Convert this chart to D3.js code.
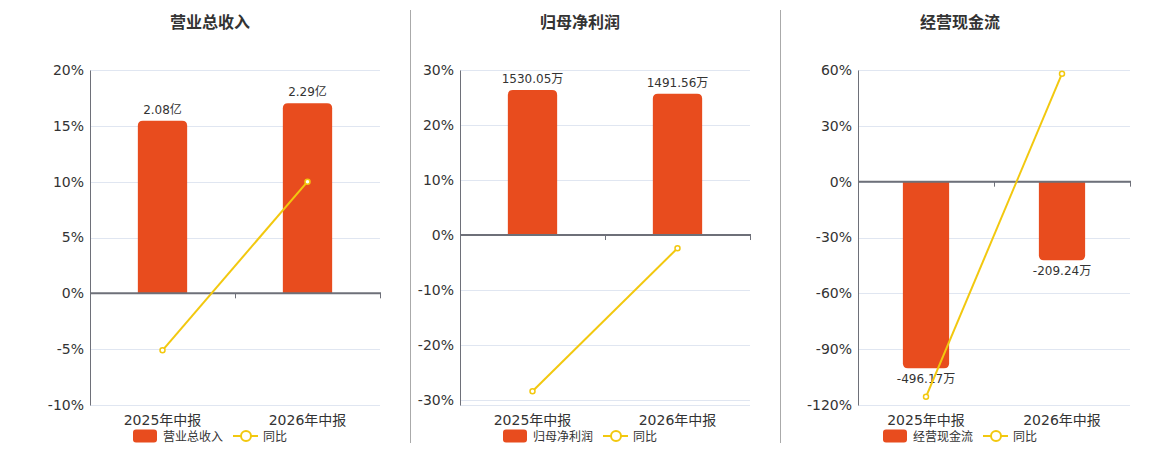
<!DOCTYPE html>
<html>
<head>
<meta charset="utf-8">
<script src="https://cdn.jsdelivr.net/npm/d3@7"></script>
<style>
  body { margin: 0; background: #fff; }
  text { font-family: "DejaVu Sans", "Noto Sans CJK SC", sans-serif; }
</style>
</head>
<body>
<svg id="chart" width="1160" height="450"></svg>
<script>
// data
var categories = ['2025年中报', '2026年中报'];
var titles = ['营业总收入', '归母净利润', '经营现金流'];
var units = ['亿', '万', '万'];
var revenue = [2.08, 2.29];
var netProfit = [1530.05, 1491.56];
var cashFlow = [-496.17, -209.24];
var yoyRevenue = [-5.1, 10.0];
var yoyProfit = [-28.4, -2.4];
var yoyCash = [-115.6, 58.0];
var pctTicks1 = [-10, -5, 0, 5, 10, 15, 20];
var pctTicks2 = [-30, -20, -10, 0, 10, 20, 30];
var pctTicks3 = [-120, -90, -60, -30, 0, 30, 60];

var barColor = '#e84c1e';
var lineColor = '#f2c80f';
var gridColor = '#e0e6f1';
var axisColor = '#6e7079';

// note: "top" is taken by window.top
var plotTop = 70, plotBottom = 405;

var panels = [
	{ title: titles[0], unit: units[0], bars: revenue, yoy: yoyRevenue, ticks: pctTicks1,
	  pctDomain: [-10, 20], barDomain: [-1.346, 2.69], left: 90, right: 380, center: 210 },
	{ title: titles[1], unit: units[1], bars: netProfit, yoy: yoyProfit, ticks: pctTicks2,
	  pctDomain: [-30.9, 30], barDomain: [-1794, 1741], left: 460, right: 750, center: 580 },
	{ title: titles[2], unit: units[2], bars: cashFlow, yoy: yoyCash, ticks: pctTicks3,
	  pctDomain: [-120, 60], barDomain: [-594, 297], left: 858, right: 1130, center: 960 }
];

var svg = d3.select('#chart');

// separators
[410, 780].forEach(function(x){
	svg.append('line')
		.attr('x1', x + 0.5).attr('x2', x + 0.5)
		.attr('y1', 10).attr('y2', 443)
		.attr('stroke', '#aaa').attr('stroke-width', 1);
});

panels.forEach(function(p){
	var g = svg.append('g');

	var xScale = d3.scaleBand().domain(categories).range([p.left, p.right]);
	var yPct = d3.scaleLinear().domain(p.pctDomain).range([plotBottom, plotTop]);
	var yBar = d3.scaleLinear().domain(p.barDomain).range([plotBottom, plotTop]);
	var zero = yPct(0);

	// title
	g.append('text')
		.attr('x', p.center).attr('y', 28)
		.attr('text-anchor', 'middle')
		.attr('font-size', 16).attr('font-weight', 'bold')
		.attr('fill', '#333')
		.text(p.title);

	// grid
	g.selectAll('.grid')
		.data(p.ticks.concat([p.pctDomain[0]]))
		.enter().append('line')
		.attr('x1', p.left).attr('x2', p.right)
		.attr('y1', function(d){ return Math.round(yPct(d)) + 0.5 })
		.attr('y2', function(d){ return Math.round(yPct(d)) + 0.5 })
		.attr('stroke', gridColor).attr('stroke-width', 1);

	// y axis
	var yAxis = d3.axisLeft(yPct)
		.tickValues(p.ticks)
		.tickSize(0)
		.tickPadding(6)
		.tickFormat(function(d){ return d + '%' });
	var ya = g.append('g')
		.attr('transform', 'translate(' + p.left + ',0)')
		.call(yAxis);
	ya.select('.domain').attr('stroke', axisColor);
	ya.selectAll('text')
		.attr('font-size', 14).attr('fill', '#333')
		.style('font-family', '"DejaVu Sans", "Noto Sans CJK SC", sans-serif');

	// bars
	var bw = xScale.bandwidth() * 0.34;
	g.selectAll('.bar')
		.data(p.bars)
		.enter().append('path')
		.attr('fill', barColor)
		.attr('d', function(d, i){
			var x0 = xScale(categories[i]) + (xScale.bandwidth() - bw) / 2;
			var y0 = yBar(0), y1 = yBar(d);
			var r = 5;
			var dir = d >= 0 ? 1 : -1;
			var p2 = d3.path();
			p2.moveTo(x0, y0);
			p2.lineTo(x0, y1 + dir * r);
			p2.quadraticCurveTo(x0, y1, x0 + r, y1);
			p2.lineTo(x0 + bw - r, y1);
			p2.quadraticCurveTo(x0 + bw, y1, x0 + bw, y1 + dir * r);
			p2.lineTo(x0 + bw, y0);
			p2.closePath();
			return p2.toString();
		});

	// bar labels
	g.selectAll('.blabel')
		.data(p.bars)
		.enter().append('text')
		.attr('x', function(d, i){ return xScale(categories[i]) + xScale.bandwidth() / 2 })
		.attr('y', function(d){ return d >= 0 ? yBar(d) - 7 : yBar(d) + 15 })
		.attr('text-anchor', 'middle')
		.attr('font-size', 12).attr('fill', '#333')
		.text(function(d){ return d + p.unit });

	// x axis at zero
	g.append('line')
		.attr('x1', p.left).attr('x2', p.right + 1)
		.attr('y1', zero).attr('y2', zero)
		.attr('stroke', axisColor).attr('stroke-width', 2);
	g.selectAll('.xtick')
		.data(categories)
		.enter().append('line')
		.attr('x1', function(d){ return xScale(d) + xScale.bandwidth() + 0.5 })
		.attr('x2', function(d){ return xScale(d) + xScale.bandwidth() + 0.5 })
		.attr('y1', zero).attr('y2', zero + 5)
		.attr('stroke', axisColor).attr('stroke-width', 1);

	// category labels
	g.selectAll('.xlabel')
		.data(categories)
		.enter().append('text')
		.attr('x', function(d){ return xScale(d) + xScale.bandwidth() / 2 })
		.attr('y', 425)
		.attr('text-anchor', 'middle')
		.attr('font-size', 14).attr('fill', '#333')
		.text(function(d){ return d });

	// yoy line
	var line = d3.line()
		.x(function(d, i){ return xScale(categories[i]) + xScale.bandwidth() / 2 })
		.y(function(d){ return yPct(d) });
	g.append('path')
		.datum(p.yoy)
		.attr('d', line)
		.attr('fill', 'none')
		.attr('stroke', lineColor).attr('stroke-width', 2);
	g.selectAll('.pt')
		.data(p.yoy)
		.enter().append('circle')
		.attr('cx', function(d, i){ return xScale(categories[i]) + xScale.bandwidth() / 2 })
		.attr('cy', function(d){ return yPct(d) })
		.attr('r', 2.5)
		.attr('fill', '#fff')
		.attr('stroke', lineColor).attr('stroke-width', 1.5);

	// legend
	var lx = p.center - 77;
	var ly = 436;
	g.append('rect')
		.attr('x', lx).attr('y', ly - 6.5)
		.attr('width', 24).attr('height', 13)
		.attr('rx', 3)
		.attr('fill', barColor);
	g.append('text')
		.attr('x', lx + 30).attr('y', ly + 4.5)
		.attr('font-size', 12).attr('fill', '#333')
		.text(p.title);
	g.append('line')
		.attr('x1', lx + 100).attr('x2', lx + 125)
		.attr('y1', ly).attr('y2', ly)
		.attr('stroke', lineColor).attr('stroke-width', 2);
	g.append('circle')
		.attr('cx', lx + 113).attr('cy', ly)
		.attr('r', 5)
		.attr('fill', '#fff')
		.attr('stroke', lineColor).attr('stroke-width', 2);
	g.append('text')
		.attr('x', lx + 130).attr('y', ly + 4.5)
		.attr('font-size', 12).attr('fill', '#333')
		.text('同比');
});
</script>
</body>
</html>
